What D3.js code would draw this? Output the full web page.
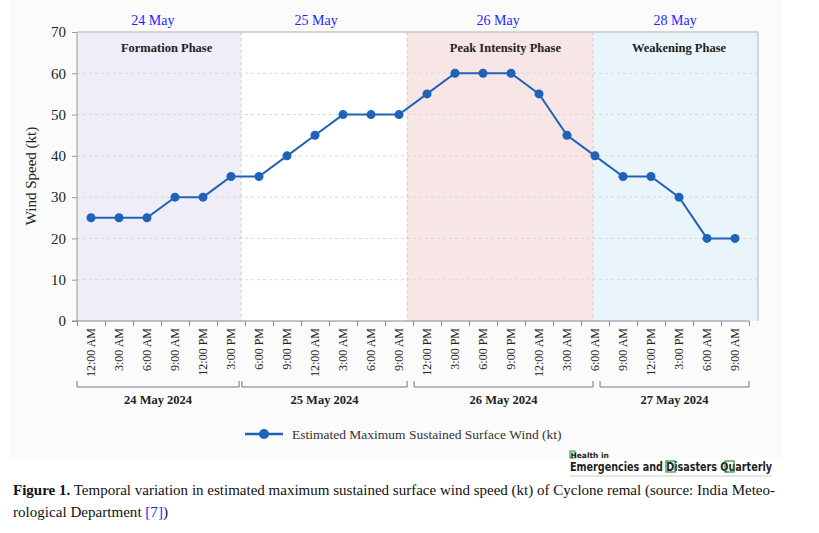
<!DOCTYPE html>
<html>
<head>
<meta charset="utf-8">
<script src="https://cdn.jsdelivr.net/npm/d3@7"></script>
<style>
  body { margin: 0; background: #fff; }
  svg { display: block; }
</style>
</head>
<body>
<svg id="chart"></svg>
<script>
// data
var times = ['12:00 AM','3:00 AM','6:00 AM','9:00 AM','12:00 PM','3:00 PM',
             '6:00 PM','9:00 PM','12:00 AM','3:00 AM','6:00 AM','9:00 AM',
             '12:00 PM','3:00 PM','6:00 PM','9:00 PM','12:00 AM','3:00 AM','6:00 AM',
             '9:00 AM','12:00 PM','3:00 PM','6:00 AM','9:00 AM'];
var wind = [25,25,25,30,30,35,35,40,45,50,50,50,55,60,60,60,55,45,40,35,35,30,20,20];

// day brackets under the axis (index units)
var dayNames = ['24 May 2024','25 May 2024','26 May 2024','27 May 2024'];
var dayStart = [-0.5, 5.39, 11.54, 18.18];
var dayEnd   = [5.29, 11.29, 17.93, 23.5];

// shaded phases (index units)
var phaseNames  = ['Formation Phase', '', 'Peak Intensity Phase', 'Weakening Phase'];
var phaseStart  = [-0.5, 5.36, 11.29, 17.93];
var phaseEnd    = [5.36, 11.29, 17.93, 23.82];
var phaseColors = ['#efedf7', '#ffffff', '#f8e5e6', '#eaf5fb'];
var phaseLabelAt = [2.7, 8.2, 14.8, 21.0];

// blue dates over the plot
var topDates = ['24 May','25 May','26 May','28 May'];
var topDateAt = [2.21, 8.04, 14.54, 20.86];

var W = 819, H = 533;
var svg = d3.select('#chart').attr('width', W).attr('height', H);
var serif = '"Liberation Serif", "Times New Roman", serif';

// faint panel behind the chart
svg.append('rect')
  .attr('x', 10).attr('y', 0).attr('width', 772).attr('height', 458)
  .attr('fill', '#fbfbfb');

var x = d3.scaleLinear().domain([-0.5, 23.5]).range([77, 749]);
var y = d3.scaleLinear().domain([0, 70]).range([321, 32]);
var xEnd = x(23.82);

// phase backgrounds
svg.selectAll('.phase')
  .data(phaseStart)
  .enter()
  .append('rect')
  .attr('class', 'phase')
  .attr('x', (d) => x(d))
  .attr('y', y(70))
  .attr('width', (d, i) => x(phaseEnd[i]) - x(d))
  .attr('height', y(0) - y(70))
  .attr('fill', (d, i) => phaseColors[i]);

// gridlines
svg.selectAll('.grid')
  .data(d3.range(10, 70, 10))
  .enter()
  .append('line')
  .attr('x1', x(-0.5)).attr('x2', xEnd)
  .attr('y1', (d) => y(d)).attr('y2', (d) => y(d))
  .attr('stroke', '#d8d8dc')
  .attr('stroke-dasharray', '3,3');

// phase separators
svg.selectAll('.sep')
  .data(phaseStart.slice(1))
  .enter()
  .append('line')
  .attr('x1', (d) => x(d)).attr('x2', (d) => x(d))
  .attr('y1', y(70)).attr('y2', y(0))
  .attr('stroke', '#d6c8cc')
  .attr('stroke-dasharray', '3,3');

// frame top and right
svg.append('path')
  .attr('d', 'M' + x(-0.5) + ',' + y(70) + 'H' + xEnd + 'V' + y(0))
  .attr('fill', 'none')
  .attr('stroke', '#c8c8c8')
  .attr('stroke-width', 1.5);

// phase labels
svg.selectAll('.plabel')
  .data(phaseNames)
  .enter()
  .append('text')
  .attr('x', (d, i) => x(phaseLabelAt[i]))
  .attr('y', 52)
  .attr('text-anchor', 'middle')
  .style('font-family', serif)
  .style('font-size', '12.5px')
  .style('font-weight', 'bold')
  .style('fill', '#222')
  .text((d) => d);

// top blue dates
svg.selectAll('.tdate')
  .data(topDates)
  .enter()
  .append('text')
  .attr('x', (d, i) => x(topDateAt[i]))
  .attr('y', 25)
  .attr('text-anchor', 'middle')
  .style('font-family', serif)
  .style('font-size', '14px')
  .style('fill', '#1f1fff')
  .text((d) => d);

// y axis
var yAxis = svg.append('g')
  .attr('transform', 'translate(' + x(-0.5) + ',0)')
  .call(d3.axisLeft(y).tickValues(d3.range(0, 71, 10)).tickSize(5).tickPadding(6));
yAxis.selectAll('text').style('font-family', serif).style('font-size', '15px').style('fill', '#222');
yAxis.selectAll('line, path').attr('stroke', '#999');
yAxis.select('.domain').attr('d', 'M0,' + y(0) + 'V' + y(70));

svg.append('text')
  .attr('transform', 'translate(36,176) rotate(-90)')
  .attr('text-anchor', 'middle')
  .style('font-family', serif)
  .style('font-size', '15px')
  .style('fill', '#222')
  .text('Wind Speed (kt)');

// x axis: ticks at category boundaries
var xAxis = svg.append('g')
  .attr('transform', 'translate(0,' + y(0) + ')')
  .call(d3.axisBottom(x).tickValues(d3.range(-0.5, 23.6, 1)).tickSize(5).tickFormat(''));
xAxis.selectAll('line').attr('stroke', '#888');
xAxis.select('.domain').attr('stroke', '#888').attr('d', 'M' + (x(-0.5) - 5) + ',0H' + x(23.5));

svg.selectAll('.tlabel')
  .data(times)
  .enter()
  .append('text')
  .attr('transform', (d, i) => 'translate(' + x(i) + ',328) rotate(-90)')
  .attr('dy', '0.35em')
  .attr('text-anchor', 'end')
  .style('font-family', serif)
  .style('font-size', '12px')
  .style('fill', '#222')
  .text((d) => d);

// day brackets
svg.selectAll('.bracket')
  .data(dayStart)
  .enter()
  .append('path')
  .attr('d', (d, i) => 'M' + x(d) + ',381V387H' + x(dayEnd[i]) + 'V381')
  .attr('fill', 'none')
  .attr('stroke', '#777');

svg.selectAll('.dlabel')
  .data(dayNames)
  .enter()
  .append('text')
  .attr('x', (d, i) => (x(dayStart[i]) + x(dayEnd[i])) / 2)
  .attr('y', 404)
  .attr('text-anchor', 'middle')
  .style('font-family', serif)
  .style('font-size', '12.5px')
  .style('font-weight', 'bold')
  .style('fill', '#222')
  .text((d) => d);

// series
var lineColor = '#1f63b8';
var line = d3.line()
  .x((d, i) => x(i))
  .y((d) => y(d));

svg.append('path')
  .datum(wind)
  .attr('d', line)
  .attr('fill', 'none')
  .attr('stroke', lineColor)
  .attr('stroke-width', 2);

svg.selectAll('.pt')
  .data(wind)
  .enter()
  .append('circle')
  .attr('cx', (d, i) => x(i))
  .attr('cy', (d) => y(d))
  .attr('r', 4.5)
  .attr('fill', lineColor);

// legend
var legend = svg.append('g').attr('transform', 'translate(245,434)');
legend.append('line').attr('x1', 0).attr('x2', 38).attr('stroke', lineColor).attr('stroke-width', 2.5);
legend.append('circle').attr('cx', 19).attr('r', 5).attr('fill', lineColor);
legend.append('text')
  .attr('x', 47).attr('y', 5)
  .style('font-family', serif)
  .style('font-size', '13.5px')
  .style('fill', '#333')
  .text('Estimated Maximum Sustained Surface Wind (kt)');

// journal mark
var logo = svg.append('g').attr('transform', 'translate(570,0)');
var sans = '"DejaVu Sans", sans-serif';
logo.append('rect').attr('x', 0).attr('y', 451).attr('width', 5).attr('height', 7)
  .attr('fill', 'none').attr('stroke', '#2e8b3a').attr('stroke-width', 1);
logo.append('text').attr('x', 0.5).attr('y', 457.5)
  .style('font-family', sans).style('font-size', '7.5px').style('font-weight', 'bold').style('fill', '#222')
  .text('Health in');
logo.append('text').attr('x', 0).attr('y', 471)
  .attr('textLength', 202).attr('lengthAdjust', 'spacingAndGlyphs')
  .style('font-family', sans).style('font-size', '11.5px').style('font-weight', 'bold').style('fill', '#222')
  .text('Emergencies and Disasters Quarterly');
logo.append('rect').attr('x', 96).attr('y', 461).attr('width', 9).attr('height', 11)
  .attr('fill', 'none').attr('stroke', '#2e8b3a').attr('stroke-width', 1.2);
logo.append('rect').attr('x', 155).attr('y', 461).attr('width', 9).attr('height', 11)
  .attr('fill', 'none').attr('stroke', '#2e8b3a').attr('stroke-width', 1.2);
logo.append('line').attr('x1', 0).attr('x2', 202).attr('y1', 476).attr('y2', 476)
  .attr('stroke', '#ccc');

// caption
var cap1 = svg.append('text').attr('x', 13).attr('y', 495)
  .attr('textLength', 762).attr('lengthAdjust', 'spacingAndGlyphs')
  .style('font-family', serif).style('font-size', '14.5px').style('fill', '#111');
cap1.append('tspan').style('font-weight', 'bold').text('Figure 1.');
cap1.append('tspan').text(' Temporal variation in estimated maximum sustained surface wind speed (kt) of Cyclone remal (source: India Meteo-');
var cap2 = svg.append('text').attr('x', 13).attr('y', 517)
  .attr('textLength', 155).attr('lengthAdjust', 'spacingAndGlyphs')
  .style('font-family', serif).style('font-size', '14.5px').style('fill', '#111');
cap2.append('tspan').text('rological Department ');
cap2.append('tspan').style('fill', '#1f1fff').text('[7]');
cap2.append('tspan').text(')');
</script>
</body>
</html>
